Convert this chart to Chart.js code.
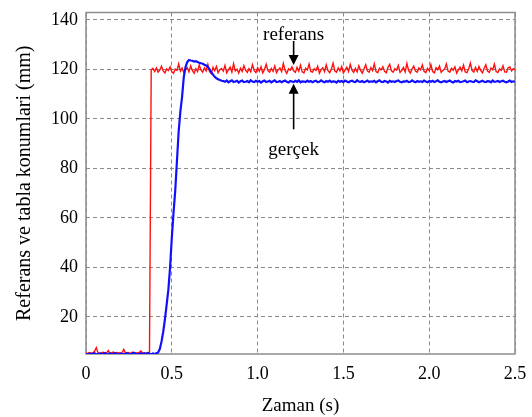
<!DOCTYPE html>
<html>
<head>
<meta charset="utf-8">
<script src="https://cdn.jsdelivr.net/npm/chart.js@4.4.1/dist/chart.umd.min.js"></script>
<style>
  html, body { margin: 0; padding: 0; background: #ffffff; }
  #wrap { width: 532px; height: 417px; }
</style>
</head>
<body>
<div id="wrap"><canvas id="posChart" width="532" height="417"></canvas></div>
<script>
// sampling: one value every 10 ms, from 0 to 2.5 s
const tStart = 0;
const tStep = 0.01;

const xTicks = [0, 0.5, 1.0, 1.5, 2.0, 2.5];
const xTickLabels = ["0", "0.5", "1.0", "1.5", "2.0", "2.5"];
const yTicks = [20, 40, 60, 80, 100, 120, 140];

// reference position (mm)
const referans = [
  5.4, 5.2, 5.6, 5.3, 5.5, 6.1, 7.6, 5.4, 5.2, 5.5,
  5.7, 5.3, 5.4, 6.4, 5.2, 5.5, 5.8, 5.3, 5.6, 5.4,
  5.2, 5.5, 6.9, 5.4, 5.3, 5.6, 5.2, 5.8, 5.4, 5.5,
  5.3, 5.6, 6.2, 5.4, 5.5, 5.2, 5.6, 5.4, 119.8, 120.4,
  119.2, 120.6, 118.9, 119.7, 121.3, 119.4, 118.6, 120.2, 119.5, 121.0,
  119.1, 118.4, 120.1, 119.6, 122.2, 119.3, 120.5, 118.8, 119.9, 120.7,
  119.0, 121.4, 119.6, 118.5, 120.3, 119.2, 121.8, 119.7, 118.9, 120.6,
  119.4, 122.0, 119.1, 118.3, 120.8, 119.5, 121.2, 118.7, 119.9, 120.4,
  119.3, 121.6, 118.6, 119.8, 120.9, 118.9, 122.3, 119.4, 120.1, 118.5,
  120.5, 119.2, 121.5, 119.7, 118.8, 120.3, 119.0, 121.9, 119.6, 118.7,
  120.7, 119.3, 121.1, 118.6, 119.9, 122.1, 119.5, 118.9, 120.4, 119.2,
  121.4, 118.7, 119.8, 120.6, 119.1, 122.4, 119.6, 118.4, 120.2, 119.7,
  121.0, 119.4, 118.8, 120.8, 119.3, 121.7, 119.0, 118.6, 120.5, 119.8,
  122.2, 119.2, 118.9, 120.3, 119.6, 121.3, 118.5, 119.9, 120.7, 119.1,
  121.8, 119.5, 118.7, 120.1, 122.5, 119.3, 118.9, 120.6, 119.4, 121.2,
  118.6, 119.8, 120.9, 119.2, 122.0, 119.7, 118.8, 120.4, 119.0, 121.5,
  119.6, 118.5, 120.2, 121.9, 119.3, 118.9, 120.7, 119.5, 122.3, 119.1,
  118.7, 120.5, 119.8, 121.1, 119.2, 118.6, 120.9, 122.1, 119.4, 118.9,
  120.3, 119.7, 121.6, 118.8, 119.5, 120.8, 119.0, 122.4, 119.6, 118.5,
  120.1, 121.3, 119.3, 118.9, 120.6, 119.8, 121.8, 119.2, 118.7, 120.4,
  119.5, 122.0, 119.1, 118.6, 120.7, 119.9, 121.4, 118.8, 119.6, 120.2,
  122.2, 119.3, 118.9, 120.5, 119.7, 121.0, 118.5, 119.8, 120.9, 119.4,
  121.7, 119.0, 118.7, 120.3, 122.6, 119.5, 118.9, 120.8, 119.2, 121.2,
  119.6, 118.6, 120.4, 121.9, 119.3, 118.8, 120.6, 119.9, 122.1, 119.1,
  118.7, 120.2, 119.6, 121.5, 119.0, 118.9, 120.7, 121.0, 119.4, 120.3,
  119.8
];

// measured table position (mm)
const gercek = [
  5.0, 4.8, 5.2, 4.9, 5.1, 5.3, 4.8, 5.0, 5.2, 4.9,
  5.1, 5.4, 4.9, 5.0, 5.2, 4.8, 5.1, 5.3, 4.9, 5.0,
  5.2, 4.9, 5.1, 5.0, 5.4, 4.8, 5.0, 5.2, 5.5, 4.9,
  5.1, 5.0, 5.3, 4.9, 5.2, 5.0, 5.4, 5.1, 4.9, 5.2,
  5.0, 5.3, 5.6, 7.0, 10.0, 14.0, 19.0, 25.0, 31.0, 40.0,
  52.0, 62.0, 71.0, 83.0, 95.0, 103.0, 109.0, 117.0, 121.0, 123.0,
  123.8, 123.6, 123.5, 123.2, 123.3, 123.0, 122.7, 122.5, 122.3, 121.9,
  121.6, 121.0, 120.0, 118.9, 117.9, 117.0, 116.4, 116.0, 115.7, 115.4,
  115.3, 115.0, 115.5, 114.8, 115.2, 115.6, 114.9, 115.1, 115.4, 114.7,
  115.2, 115.5, 114.9, 115.0, 115.3, 114.8, 115.6, 115.1, 114.9, 115.4,
  115.0, 115.3, 114.7, 115.2, 115.5, 114.9, 115.1, 115.4, 114.8, 115.2,
  115.6, 114.9, 115.0, 115.3, 114.8, 115.2, 115.5, 115.0, 114.7, 115.3,
  115.1, 114.9, 115.4, 115.0, 115.6, 114.8, 115.2, 115.1, 114.9, 115.5,
  115.0, 115.3, 114.8, 115.2, 115.4, 114.9, 115.0, 115.6, 115.1, 114.8,
  115.3, 115.0, 115.5, 114.9, 115.2, 115.1, 114.7, 115.4, 115.0, 115.3,
  114.9, 115.5, 115.1, 114.8, 115.2, 115.4, 115.0, 114.9, 115.6, 115.1,
  115.0, 115.3, 114.8, 115.1, 115.5, 114.9, 115.2, 115.0, 115.4, 114.8,
  115.2, 115.6, 115.0, 114.9, 115.3, 115.1, 114.7, 115.4, 115.0, 115.2,
  114.9, 115.3, 115.5, 115.0, 114.8, 115.2, 115.1, 115.4, 114.9, 115.0,
  115.6, 115.1, 114.8, 115.3, 115.0, 115.2, 114.9, 115.5, 115.1, 114.8,
  115.3, 115.0, 115.4, 114.9, 115.2, 115.6, 115.0, 114.8, 115.1, 115.3,
  114.9, 115.2, 115.5, 115.0, 114.7, 115.3, 115.1, 115.4, 114.9, 115.0,
  115.2, 115.5, 114.8, 115.1, 115.3, 115.0, 114.9, 115.6, 115.2, 114.8,
  115.1, 115.4, 115.0, 114.9, 115.3, 115.2, 114.8, 115.5, 115.0, 115.1,
  115.3, 114.9, 115.2, 115.4, 115.0, 114.8, 115.1, 115.5, 114.9, 115.2,
  115.0
];

// arrow labels, placed in axis units
const arrowNotes = [
  { text: "referans", x: 1.21, textY: 134.0, from: 131.5, to: 121.8 },
  { text: "gerçek", x: 1.21, textY: 87.4, from: 95.8, to: 114.2 },
];

const serif = "'Liberation Serif', 'Times New Roman', serif";

function toPoints(values) {
  return values.map((v, i) => ({ x: tStart + i * tStep, y: v }));
}

// plot frame, drawn under the traces
const framePlugin = {
  id: "frame",
  beforeDatasetsDraw(chart) {
    const { ctx, chartArea: a } = chart;
    ctx.save();
    ctx.strokeStyle = "#8c8c8c";
    ctx.lineWidth = 1.5;
    ctx.strokeRect(a.left, a.top, a.right - a.left, a.bottom - a.top);
    ctx.restore();
  },
};

// "referans" / "gerçek" text with arrows
const notesPlugin = {
  id: "notes",
  afterDatasetsDraw(chart) {
    const { ctx } = chart;
    const xs = chart.scales.x;
    const ys = chart.scales.y;
    ctx.save();
    ctx.fillStyle = "#000";
    ctx.strokeStyle = "#000";
    ctx.lineWidth = 1.6;
    ctx.font = "19px " + serif;
    ctx.textAlign = "center";
    ctx.textBaseline = "middle";
    for (const n of arrowNotes) {
      const px = xs.getPixelForValue(n.x);
      const y0 = ys.getPixelForValue(n.from);
      const y1 = ys.getPixelForValue(n.to);
      const dir = y1 > y0 ? 1 : -1;
      ctx.fillText(n.text, px, ys.getPixelForValue(n.textY));
      ctx.beginPath();
      ctx.moveTo(px, y0);
      ctx.lineTo(px, y1 - dir * 8);
      ctx.stroke();
      ctx.beginPath();
      ctx.moveTo(px, y1);
      ctx.lineTo(px - 5, y1 - dir * 10);
      ctx.lineTo(px + 5, y1 - dir * 10);
      ctx.closePath();
      ctx.fill();
    }
    ctx.restore();
  },
};

new Chart(document.getElementById("posChart"), {
  type: "line",
  data: {
    datasets: [
      {
        label: "gerçek",
        data: toPoints(gercek),
        borderColor: "#1010ff",
        borderWidth: 2.2,
        pointRadius: 0,
        tension: 0,
      },
      {
        label: "referans",
        data: toPoints(referans),
        borderColor: "#ff1010",
        borderWidth: 1.4,
        pointRadius: 0,
        tension: 0,
      },
    ],
  },
  options: {
    responsive: false,
    devicePixelRatio: 1,
    animation: false,
    layout: { padding: { top: 12.5, right: 17, bottom: 0, left: 0 } },
    plugins: {
      legend: { display: false },
      tooltip: { enabled: false },
    },
    scales: {
      x: {
        type: "linear",
        min: 0,
        max: 2.5,
        afterFit: (s) => {
          s.height = 63;
          s.paddingLeft = 0;
          s.paddingRight = 0;
        },
        afterBuildTicks: (s) => { s.ticks = xTicks.map((v) => ({ value: v })); },
        ticks: {
          padding: 9,
          color: "#000",
          font: { family: serif, size: 18 },
          maxRotation: 0,
          callback: (v) => xTickLabels[xTicks.indexOf(v)],
        },
        grid: { color: "#8a8a8a", lineWidth: 1, drawTicks: false },
        border: { display: false, dash: [4, 3] },
        title: {
          display: true,
          text: "Zaman (s)",
          color: "#000",
          font: { family: serif, size: 19 },
          padding: { top: 0, bottom: 0 },
        },
      },
      y: {
        min: 5,
        max: 143,
        afterFit: (s) => {
          s.width = 86;
          s.paddingTop = 0;
          s.paddingBottom = 0;
        },
        afterBuildTicks: (s) => { s.ticks = yTicks.map((v) => ({ value: v })); },
        ticks: {
          padding: 8,
          color: "#000",
          font: { family: serif, size: 18 },
        },
        grid: { color: "#8a8a8a", lineWidth: 1, drawTicks: false },
        border: { display: false, dash: [4, 3] },
        title: {
          display: true,
          text: "Referans ve tabla konumlari (mm)",
          color: "#000",
          font: { family: serif, size: 20 },
          padding: { top: 13, bottom: 0 },
        },
      },
    },
  },
  plugins: [framePlugin, notesPlugin],
});
</script>
</body>
</html>
